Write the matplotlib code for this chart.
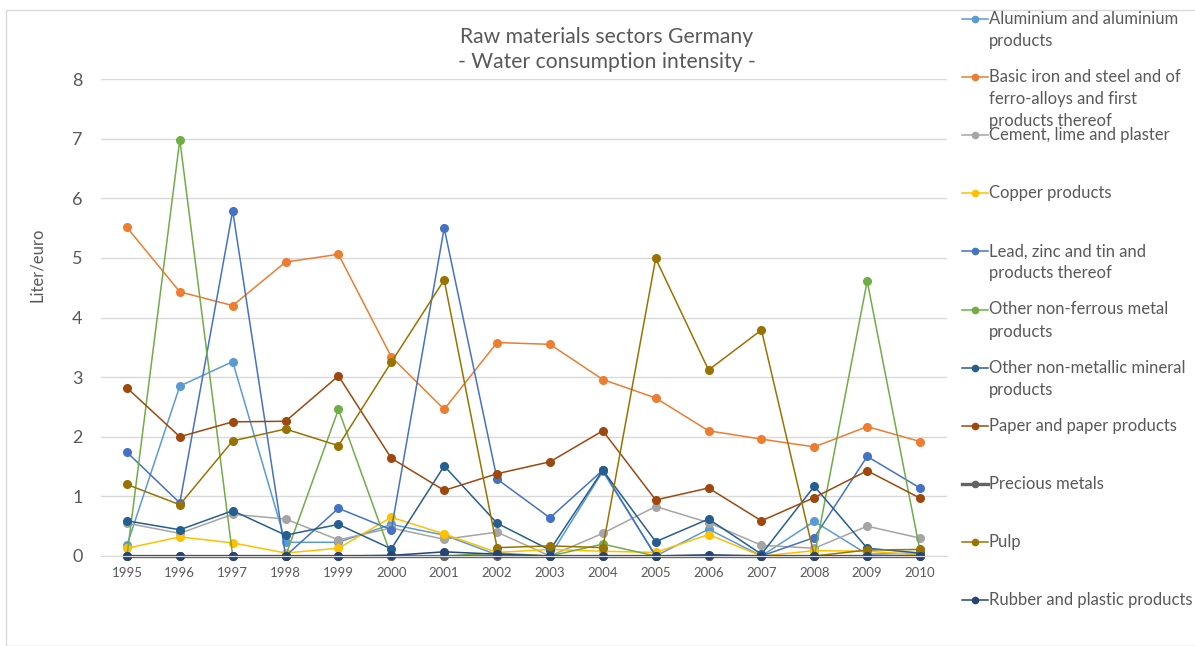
import matplotlib
matplotlib.use("Agg")
import matplotlib.pyplot as plt
from matplotlib.lines import Line2D
from matplotlib.patches import Rectangle

plt.rcParams['font.family'] = ['Lato', 'DejaVu Sans']

years = [str(y) for y in range(1995, 2011)]

aluminium = [0.18, 2.85, 3.26, 0.23, 0.23, 0.53, 0.35, 0.02, 0.0, 1.42, 0.0, 0.45, 0.0, 0.58, 0.03, 0.05]
basic_iron = [5.51, 4.43, 4.20, 4.93, 5.06, 3.34, 2.46, 3.58, 3.55, 2.96, 2.65, 2.10, 1.96, 1.83, 2.17, 1.92]
cement = [0.55, 0.38, 0.70, 0.62, 0.27, 0.47, 0.28, 0.40, 0.0, 0.38, 0.83, 0.56, 0.18, 0.13, 0.50, 0.30]
copper = [0.13, 0.32, 0.22, 0.05, 0.13, 0.65, 0.37, 0.06, 0.11, 0.08, 0.06, 0.36, 0.0, 0.09, 0.08, 0.02]
lead_zinc = [1.74, 0.89, 5.79, 0.0, 0.80, 0.44, 5.50, 1.29, 0.64, 1.44, 0.0, 0.0, 0.0, 0.31, 1.67, 1.14]
non_ferrous = [0.0, 6.98, 0.0, 0.0, 2.46, 0.0, 0.0, 0.05, 0.0, 0.20, 0.0, 0.0, 0.0, 0.0, 4.61, 0.08]
non_metallic = [0.59, 0.44, 0.76, 0.35, 0.53, 0.12, 1.51, 0.55, 0.10, 1.44, 0.24, 0.62, 0.03, 1.17, 0.13, 0.05]
paper = [2.82, 2.00, 2.25, 2.26, 3.02, 1.64, 1.10, 1.38, 1.58, 2.10, 0.94, 1.14, 0.59, 0.98, 1.43, 0.97]
precious = [0.0] * 16
pulp = [1.20, 0.86, 1.93, 2.13, 1.85, 3.25, 4.63, 0.14, 0.17, 0.14, 4.99, 3.12, 3.79, 0.0, 0.10, 0.11]
rubber = [0.0, 0.0, 0.0, 0.0, 0.0, 0.01, 0.07, 0.03, 0.0, 0.0, 0.0, 0.02, 0.0, 0.0, 0.0, 0.0]

series = [
    ("Aluminium and aluminium\nproducts", aluminium, "#5B9BD5", 1.1),
    ("Basic iron and steel and of\nferro-alloys and first\nproducts thereof", basic_iron, "#ED7D31", 1.1),
    ("Cement, lime and plaster", cement, "#A5A5A5", 1.1),
    ("Copper products", copper, "#FFC000", 1.1),
    ("Lead, zinc and tin and\nproducts thereof", lead_zinc, "#4472C4", 1.1),
    ("Other non-ferrous metal\nproducts", non_ferrous, "#70AD47", 1.1),
    ("Other non-metallic mineral\nproducts", non_metallic, "#255E91", 1.1),
    ("Paper and paper products", paper, "#9E480E", 1.1),
    ("Precious metals", precious, "#636363", 2.4),
    ("Pulp", pulp, "#997300", 1.1),
    ("Rubber and plastic products", rubber, "#264478", 1.1),
]

W, H = 1195, 646
fig = plt.figure(figsize=(W / 100, H / 100), dpi=100)

# chart-area border
fig.patches.append(Rectangle((6 / W, 0), 1.2, 1 - 10 / H, transform=fig.transFigure,
                             fill=False, edgecolor="#D9D9D9", linewidth=1.0))

ax = fig.add_axes([100.5 / W, 90 / H, 846 / W, 477 / H])
x = list(range(len(years)))
for name, vals, col, lw in series:
    ax.plot(x, vals, color=col, linewidth=lw, marker="o", markersize=5.5,
            markerfacecolor=col, markeredgecolor=col, clip_on=False)

ax.set_xlim(-0.5, len(years) - 0.5)
ax.set_ylim(0, 8)
ax.set_yticks(range(0, 9))
ax.set_xticks(x)
ax.set_xticklabels(years)
ax.yaxis.grid(True, color="#D9D9D9", linewidth=1.0)
ax.set_axisbelow(True)
for s in ["top", "right", "left"]:
    ax.spines[s].set_visible(False)
ax.spines["bottom"].set_color("#D9D9D9")
ax.tick_params(axis="both", length=0, colors="#595959")
ax.tick_params(axis="y", labelsize=13, pad=13)
ax.tick_params(axis="x", labelsize=9.5, pad=8)
ax.set_ylabel("Liter/euro", fontsize=12, color="#595959")
ax.yaxis.set_label_coords(-0.0656, 0.61)

fig.text(607 / W, 1 - 37 / H, "Raw materials sectors Germany", ha="center", va="center",
         fontsize=15.2, color="#595959")
fig.text(607 / W, 1 - 62 / H, "- Water consumption intensity -", ha="center", va="center",
         fontsize=15.2, color="#595959")

# legend in fixed slots down the right side
slot0, pitch, line_gap = 19, 58.1, 22
for i, (name, vals, col, lw) in enumerate(series):
    yc = slot0 + i * pitch
    fig.add_artist(Line2D([962 / W, 988 / W], [1 - yc / H, 1 - yc / H], color=col,
                          linewidth=lw, transform=fig.transFigure))
    fig.add_artist(Line2D([975 / W], [1 - yc / H], color=col, marker="o", markersize=4.5,
                          linestyle="none", transform=fig.transFigure))
    for j, part in enumerate(name.split("\n")):
        fig.text(989 / W, 1 - (yc + j * line_gap) / H, part, ha="left", va="center",
                 fontsize=12, color="#595959")

fig.savefig("out.png", dpi=100)
